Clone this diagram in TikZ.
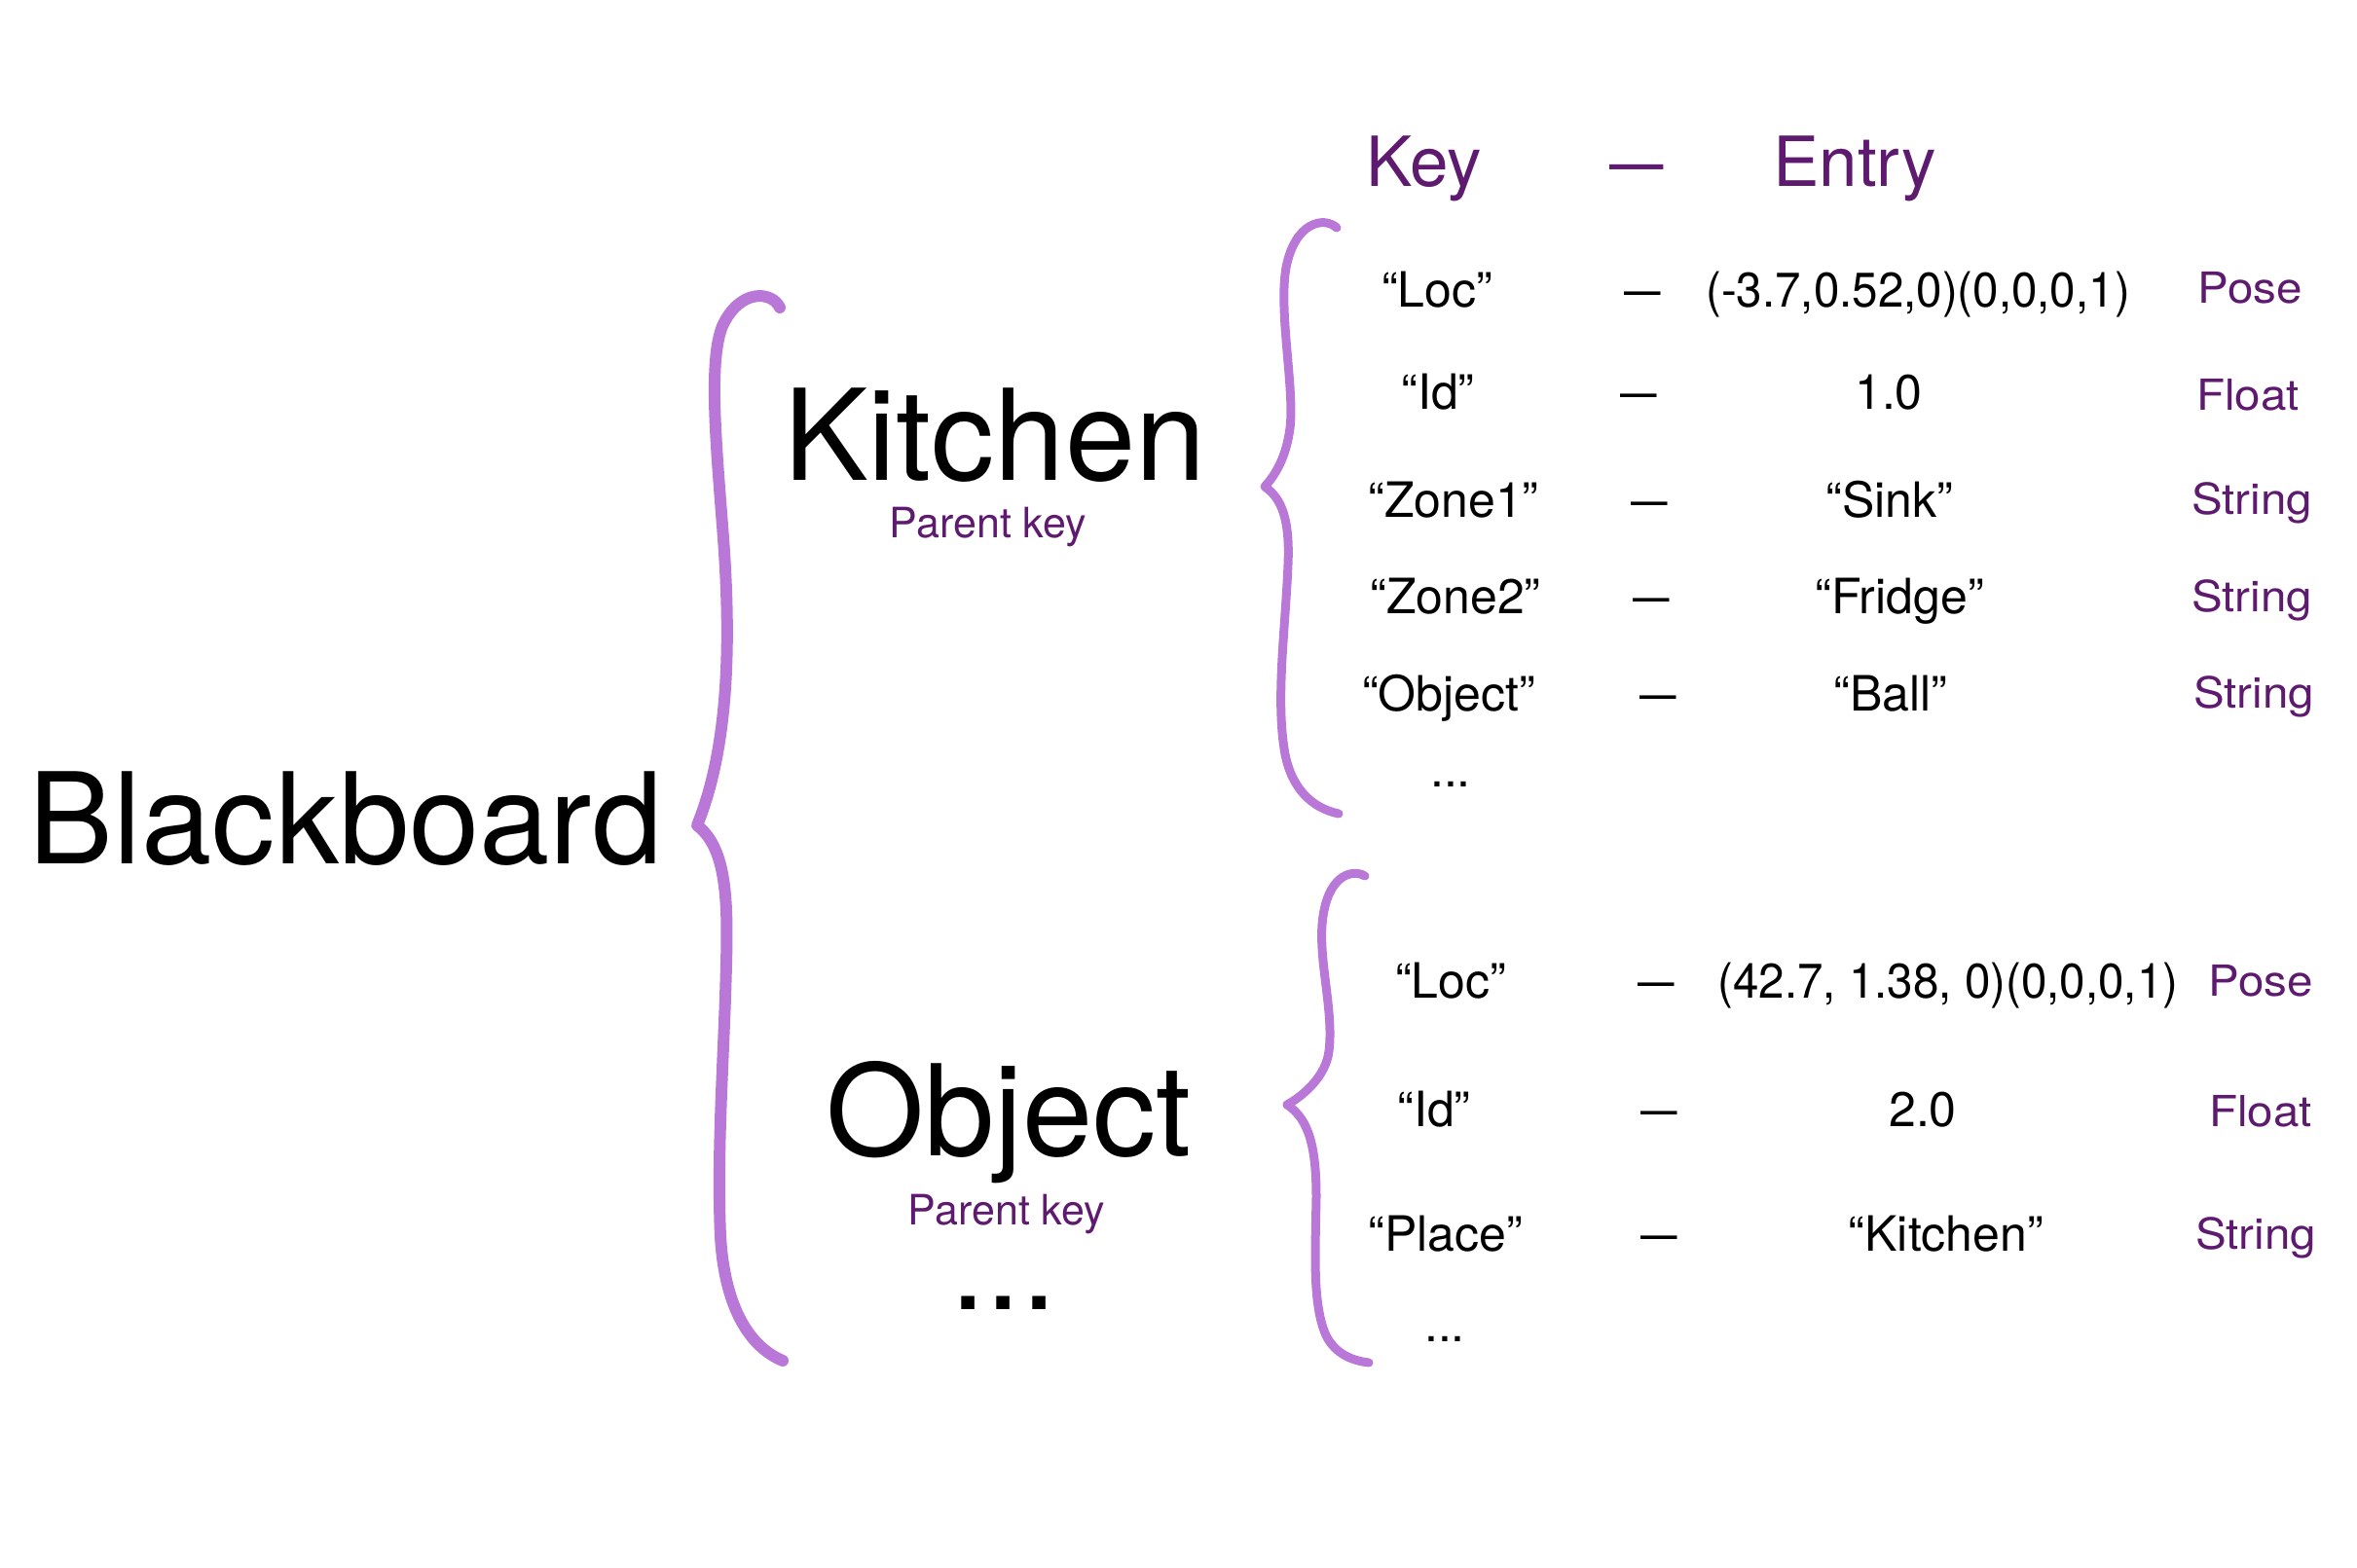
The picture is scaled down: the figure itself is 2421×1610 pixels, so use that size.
\documentclass[tikz,border=0pt]{standalone}
\usepackage{fontspec}
\setmainfont{TeX Gyre Heros}
\definecolor{bracecol}{RGB}{185,120,215}
\definecolor{txtpurple}{RGB}{94,26,110}
\newcommand{\sdash}[1]{\scalebox{#1}[1]{—}}
\begin{document}
\begin{tikzpicture}[x=1pt,y={(0pt,-1pt)},
  lbl/.style={anchor=base, inner sep=0pt, outer sep=0pt},
  huge/.style={lbl, font=\fontsize{130}{156}\selectfont},
  parent/.style={lbl, text=txtpurple, font=\fontsize{43}{52}\selectfont},
  hdr/.style={lbl, text=txtpurple, font=\fontsize{71}{85}\selectfont},
  cell/.style={lbl, font=\fontsize{50}{60}\selectfont},
  typ/.style={lbl, text=txtpurple, font=\fontsize{44}{53}\selectfont},
  bracebig/.style={draw=bracecol, line width=12pt, line cap=round, line join=round},
  bracesmall/.style={draw=bracecol, line width=9pt, line cap=round, line join=round}]
\useasboundingbox (0,0) rectangle (2421,1610);

% left part
\node[huge] (bb) at (355,887) {Blackboard};
\node[huge] (kit) at (1022,493) {Kitchen};
\node[parent] (pk1) at (1015,552) {Parent key};
\node[huge] (obj) at (1036,1187) {Object};
\node[parent] (pk2) at (1034,1258) {Parent key};
\node[huge, text height=20pt, text depth=0pt] (odots) at (1031,1345) {...};

% big brace
\draw[bracebig] (801,316) .. controls (793,299) and (760,296) .. (742,335)
  .. controls (728,370) and (735,450) .. (742,540)
  .. controls (750,640) and (752,760) .. (716,848)
  .. controls (745,870) and (748,920) .. (746,990)
  .. controls (744,1080) and (736,1180) .. (740,1270)
  .. controls (744,1340) and (768,1383) .. (804,1398);

\begin{scope}[xshift=-5pt]
% header
\node[hdr] (hkey) at (1468,191) {Key};
\node[hdr] (hdash) at (1686,191) {\sdash{0.78}};
\node[hdr] (hentry) at (1910,191) {Entry};

% kitchen brace
\draw[bracesmall] (1378,234) .. controls (1365,222) and (1335,228) .. (1326,275)
  .. controls (1318,320) and (1335,400) .. (1330,440)
  .. controls (1326,470) and (1315,488) .. (1304,500)
  .. controls (1322,512) and (1330,535) .. (1328,580)
  .. controls (1325,650) and (1315,720) .. (1325,775)
  .. controls (1332,810) and (1352,830) .. (1380,836);

% kitchen table
\node[cell] (k1k) at (1481,315) {“Loc”};
\node[cell] (k1d) at (1692,315) {\sdash{0.75}};
\node[cell] (k1e) at (1975,315) {\scalebox{0.95}[1]{(-3.7,0.52,0)(0,0,0,1)}};
\node[typ] (k1t) at (2316,311) {\scalebox{1.08}[1]{Pose}};

\node[cell] (k2k) at (1482,420) {“Id”};
\node[cell] (k2d) at (1688,420) {\sdash{0.75}};
\node[cell] (k2e) at (1945,420) {1.0};
\node[typ] (k2t) at (2314,421) {\scalebox{1.08}[1]{Float}};

\node[cell] (k3k) at (1498,531) {“Zone1”};
\node[cell] (k3d) at (1699,531) {\sdash{0.75}};
\node[cell] (k3e) at (1946,531) {“Sink”};
\node[typ] (k3t) at (2318,528) {\scalebox{1.08}[1]{String}};

\node[cell] (k4k) at (1500,630) {“Zone2”};
\node[cell] (k4d) at (1701,630) {\sdash{0.75}};
\node[cell] (k4e) at (1956,630) {“Fridge”};
\node[typ] (k4t) at (2318,628) {\scalebox{1.08}[1]{String}};

\node[cell] (k5k) at (1493,730) {“Object”};
\node[cell] (k5d) at (1708,730) {\sdash{0.75}};
\node[cell] (k5e) at (1947,730) {“Ball”};
\node[typ] (k5t) at (2320,727) {\scalebox{1.08}[1]{String}};

\node[cell] (k6k) at (1495,808) {...};

% object table
\node[cell] (o1k) at (1495,1025) {“Loc”};
\node[cell] (o1d) at (1706,1025) {\sdash{0.75}};
\node[cell] (o1e) at (2006,1025) {\scalebox{0.95}[1]{(42.7, 1.38, 0)(0,0,0,1)}};
\node[typ] (o1t) at (2327,1023) {\scalebox{1.08}[1]{Pose}};

\node[cell] (o2k) at (1478,1157) {“Id”};
\node[cell] (o2d) at (1709,1157) {\sdash{0.75}};
\node[cell] (o2e) at (1980,1157) {2.0};
\node[typ] (o2t) at (2327,1157) {\scalebox{1.08}[1]{Float}};

\node[cell] (o3k) at (1490,1285) {“Place”};
\node[cell] (o3d) at (1709,1285) {\sdash{0.75}};
\node[cell] (o3e) at (2004,1285) {“Kitchen”};
\node[typ] (o3t) at (2322,1283) {\scalebox{1.08}[1]{String}};

\node[cell] (o4k) at (1489,1378) {...};
\end{scope}

% object brace
\draw[bracesmall] (1402,900) .. controls (1388,892) and (1362,900) .. (1358,950)
  .. controls (1355,990) and (1370,1040) .. (1365,1080)
  .. controls (1362,1105) and (1340,1125) .. (1322,1135)
  .. controls (1345,1150) and (1352,1180) .. (1352,1230)
  .. controls (1351,1290) and (1348,1340) .. (1362,1372)
  .. controls (1372,1392) and (1390,1398) .. (1406,1400);
\end{tikzpicture}
\end{document}
